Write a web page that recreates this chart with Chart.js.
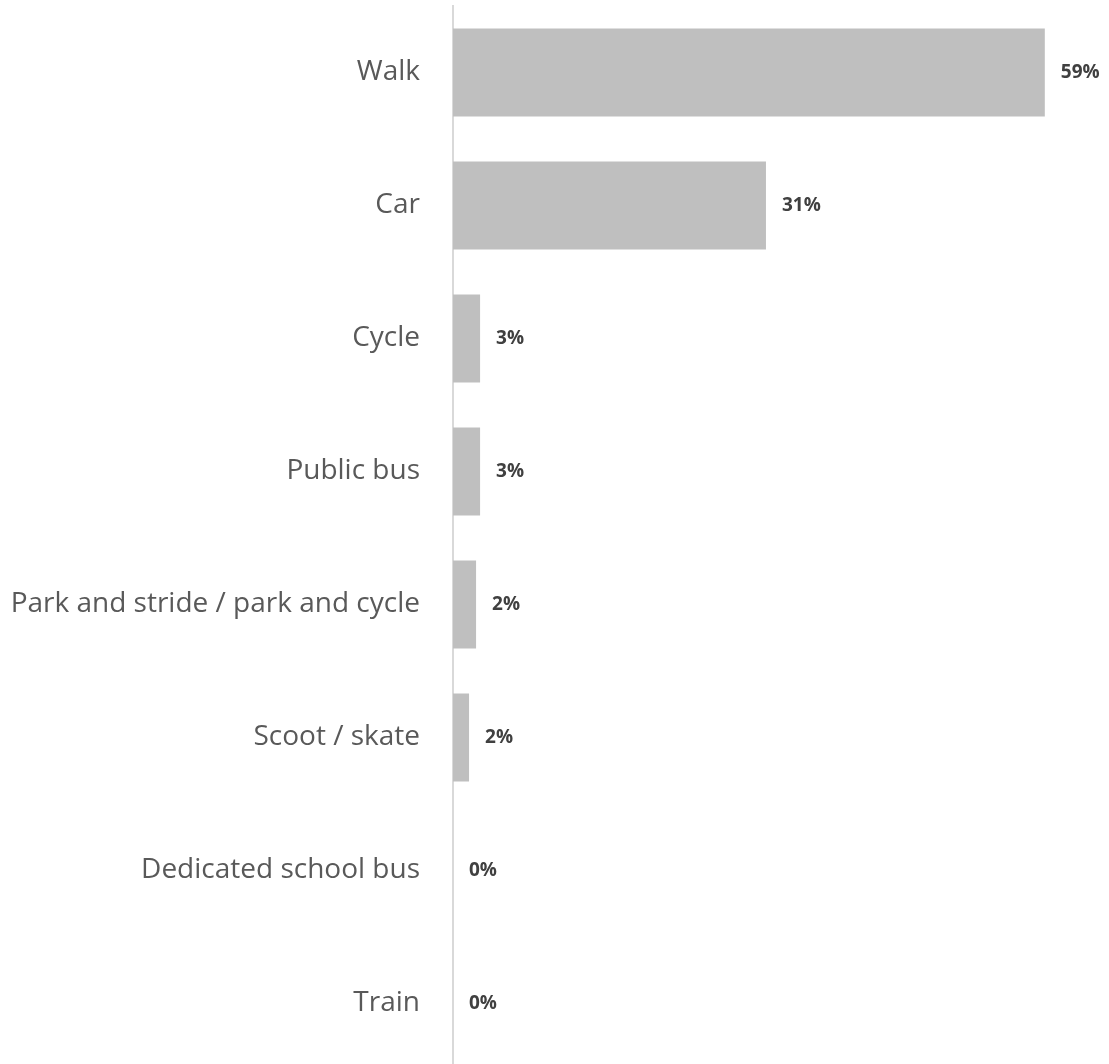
<!DOCTYPE html>
<html>
<head>
<meta charset="utf-8">
<script src="https://cdn.jsdelivr.net/npm/chart.js@4"></script>
<style>
    html, body { margin: 0; padding: 0; background: #fff; overflow: hidden; }
</style>
</head>
<body>
<canvas id="travelChart" width="1109" height="1072"></canvas>
<script>
// Modes of travel and their shares (%)
var modes = ['Walk', 'Car', 'Cycle', 'Public bus', 'Park and stride / park and cycle', 'Scoot / skate', 'Dedicated school bus', 'Train'];
var shares = [59, 31.2, 2.7, 2.7, 2.3, 1.6, 0, 0];
var shareLabels = ['59%', '31%', '3%', '3%', '2%', '2%', '0%', '0%'];

// Simple value labels drawn after the bars (no datalabels plugin available)
var valueLabels = {
    id: 'valueLabels',
    afterDatasetsDraw: function(chart) {
        var ctx = chart.ctx;
        var meta = chart.getDatasetMeta(0);
        ctx.save();
        ctx.font = 'bold 19px "Open Sans"';
        ctx.fillStyle = '#404040';
        ctx.textAlign = 'left';
        ctx.textBaseline = 'middle';
        meta.data.forEach(function(bar, i) {
            ctx.fillText(shareLabels[i], bar.x + 16, bar.y);
        });
        ctx.restore();
    }
};

var ctx = document.getElementById('travelChart').getContext('2d');
var travelChart = new Chart(ctx, {
    type: 'bar',
    data: {
        labels: modes,
        datasets: [{
            data: shares,
            backgroundColor: '#bfbfbf',
            borderWidth: 0,
            barPercentage: 0.66,
            categoryPercentage: 1
        }]
    },
    options: {
        indexAxis: 'y',
        responsive: false,
        animation: false,
        layout: {
            padding: { top: 6, bottom: 2, right: 4, left: 0 }
        },
        plugins: {
            legend: { display: false },
            tooltip: { enabled: false }
        },
        scales: {
            x: {
                display: false,
                min: 0,
                max: 65
            },
            y: {
                afterFit: function(scale) {
                    scale.width = 453;
                    scale.paddingTop = 0;
                    scale.paddingBottom = 0;
                },
                grid: { display: false, drawTicks: false },
                border: { display: true, color: '#d9d9d9', width: 2 },
                ticks: {
                    color: '#595959',
                    padding: 33,
                    font: { family: '"Open Sans"', size: 28 }
                }
            }
        }
    },
    plugins: [valueLabels]
});
</script>
</body>
</html>
